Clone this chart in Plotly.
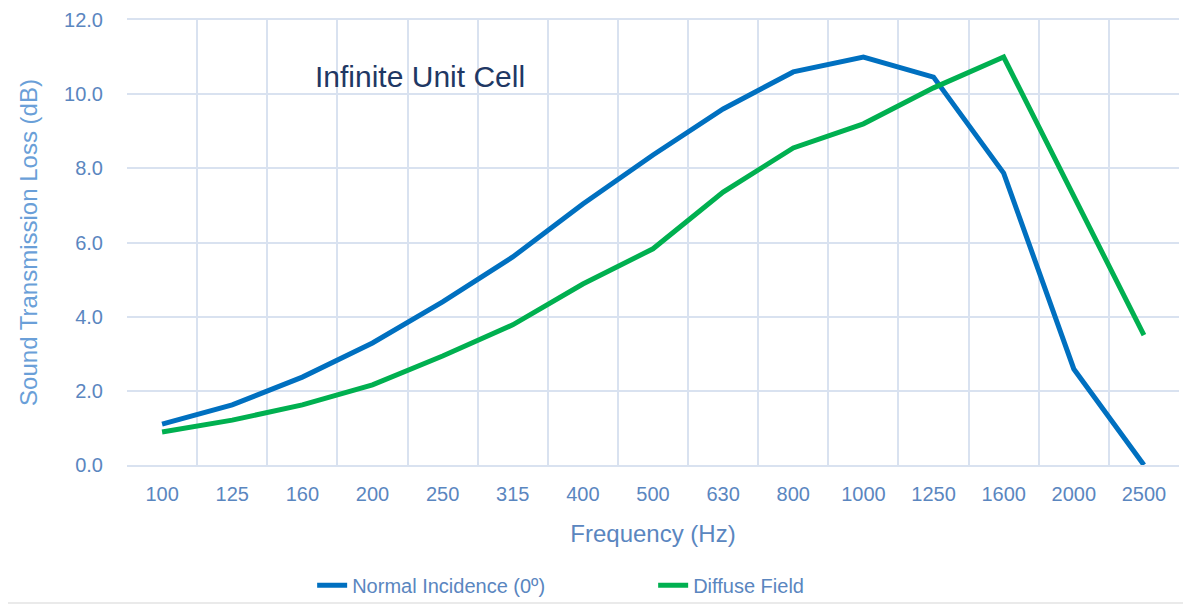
import plotly.graph_objects as go

frequencies = ["100", "125", "160", "200", "250", "315", "400", "500", "630", "800",
               "1000", "1250", "1600", "2000", "2500"]
normal_incidence = [1.10, 1.62, 2.37, 3.29, 4.40, 5.61, 7.04, 8.36, 9.60, 10.60,
                    11.00, 10.46, 7.87, 2.59, 0.00]
diffuse_field = [0.89, 1.21, 1.62, 2.16, 2.94, 3.78, 4.88, 5.83, 7.36, 8.55,
                 9.20, 10.17, 11.00, 7.28, 3.50]
y_ticks = [0, 2, 4, 6, 8, 10, 12]

FONT = "Liberation Sans Narrow, Arial Narrow, Liberation Sans, Arial, sans-serif"
TICK_COLOR = "#5a86bf"
MAJOR_GRID = "#d9e2f0"
MINOR_GRID = "#edf1f8"

fig = go.Figure()
fig.add_trace(go.Scatter(x=frequencies, y=normal_incidence, mode="lines",
                         name="Normal Incidence (0º)",
                         line=dict(color="#0070c0", width=5)))
fig.add_trace(go.Scatter(x=frequencies, y=diffuse_field, mode="lines",
                         name="Diffuse Field",
                         line=dict(color="#00b050", width=5)))

# lighter gridlines at category centres
for f in frequencies:
    fig.add_shape(type="line", xref="x", yref="paper", x0=f, x1=f, y0=0, y1=1,
                  line=dict(color=MINOR_GRID, width=2), layer="below")

fig.add_annotation(text="Infinite Unit Cell", xref="paper", yref="paper",
                   x=0.177, y=0.874, xanchor="left", yanchor="middle",
                   showarrow=False, font=dict(family=FONT, size=30, color="#1f3864"))

# separator line at bottom
fig.add_shape(type="line", xref="paper", yref="paper", x0=-0.2, x1=1.2,
              y0=-0.310, y1=-0.310, line=dict(color="#e3e3e3", width=1.5))

fig.update_layout(
    width=1191, height=606,
    margin=dict(l=119, r=20, t=12, b=149, autoexpand=False),
    paper_bgcolor="white", plot_bgcolor="white",
    font=dict(family=FONT, color=TICK_COLOR),
    showlegend=True,
    legend=dict(orientation="h", x=0.176, y=-0.27, xanchor="left", yanchor="middle",
                entrywidth=296, entrywidthmode="pixels",
                bgcolor="rgba(0,0,0,0)",
                font=dict(family=FONT, size=20, color=TICK_COLOR),
                tracegroupgap=0),
)
fig.update_xaxes(type="category", tickson="boundaries", showgrid=True, automargin=False,
                 gridcolor=MAJOR_GRID, gridwidth=2, ticks="",
                 tickfont=dict(family=FONT, size=20, color=TICK_COLOR),
                 ticklabelstandoff=10,
                 title=dict(text="Frequency (Hz)", standoff=21,
                            font=dict(family=FONT, size=24, color=TICK_COLOR)),
                 showline=True, linecolor=MAJOR_GRID, linewidth=2, mirror=True,
                 range=[-0.5, len(frequencies) - 0.5])
fig.update_yaxes(range=[0, 12], tickvals=y_ticks, tickformat=".1f", automargin=False,
                 showgrid=True, gridcolor=MAJOR_GRID, gridwidth=2, zeroline=False,
                 ticks="", ticklabelstandoff=23,
                 tickfont=dict(family=FONT, size=20, color=TICK_COLOR),
                 title=dict(text="Sound Transmission Loss (dB)", standoff=19,
                            font=dict(family=FONT, size=24, color="#6a9fd8")))

fig.write_html("out.html")
